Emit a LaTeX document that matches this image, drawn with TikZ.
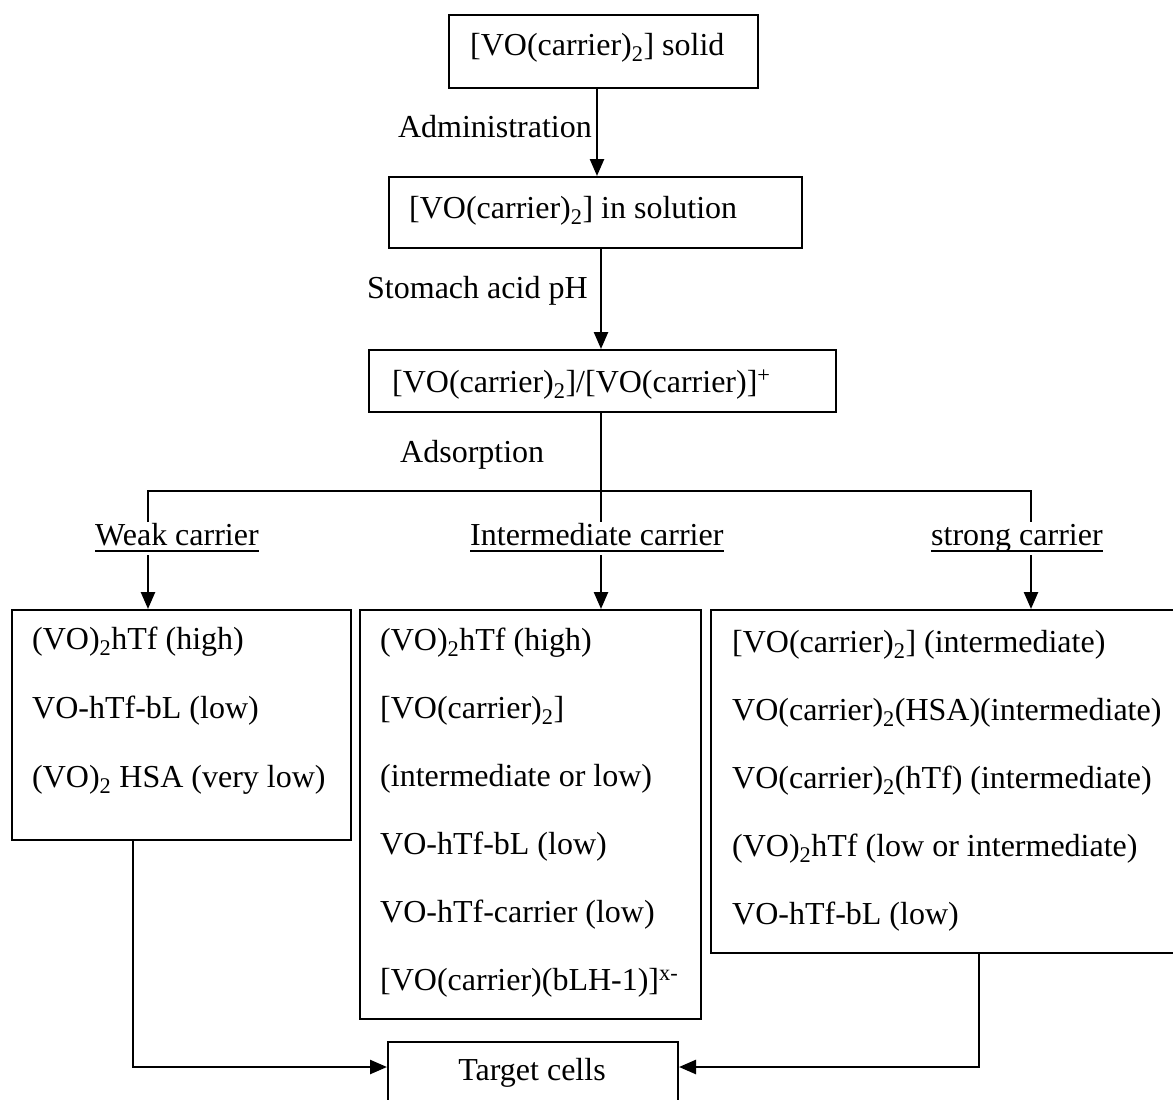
\documentclass[tikz,border=0pt]{standalone}
\usepackage{fontspec}
\setmainfont{Liberation Serif}
\usetikzlibrary{arrows.meta}
\begin{document}
\begin{tikzpicture}[x=1pt,y=-1pt,
  box/.style={draw, line width=2pt, rectangle, inner sep=0pt, anchor=north west},
  txt/.style={inner sep=0pt, anchor=base west, font=\fontsize{32}{38}\selectfont},
  conn/.style={line width=2.5pt},
  arr/.style={conn, -{Triangle[length=17pt,width=14pt]}},
  uline/.style={line width=2pt}]
\useasboundingbox (0,0) rectangle (1173,1100);

% boxes
\node[box, minimum width=309pt, minimum height=73pt] (b1) at (448,14) {};
\node[box, minimum width=413pt, minimum height=71pt] (b2) at (388,176) {};
\node[box, minimum width=467pt, minimum height=62pt] (b3) at (368,349) {};
\node[box, minimum width=339pt, minimum height=230pt] (bL) at (11,609) {};
\node[box, minimum width=341pt, minimum height=409pt] (bM) at (359,609) {};
\node[box, minimum width=480pt, minimum height=343pt] (bR) at (710,609) {};
\node[box, minimum width=290pt, minimum height=110pt] (tgt) at (387,1041) {};

% texts
\node[txt] (t1) at (470,55) {[VO(carrier)\textsubscript{2}] solid};
\node[txt] (t2) at (409,218) {[VO(carrier)\textsubscript{2}] in solution};
\node[txt] (t3) at (392,392) {[VO(carrier)\textsubscript{2}]/[VO(carrier)]\textsuperscript{+}};
\node[txt, anchor=base east] (adm) at (592,137) {Administration};
\node[txt] (sto) at (367,298) {Stomach acid pH};
\node[txt] (ads) at (400,462) {Adsorption};
\node[txt] (weak) at (95,545) {Weak carrier};
\node[txt] (inter) at (470,545) {Intermediate carrier};
\node[txt] (strong) at (931,545) {strong carrier};

\node[txt] (l1) at (32,649) {(VO)\textsubscript{2}hTf (high)};
\node[txt] (l2) at (32,718) {VO-hTf-bL (low)};
\node[txt] (l3) at (32,787) {(VO)\textsubscript{2} HSA (very low)};

\node[txt] (m1) at (380,650) {(VO)\textsubscript{2}hTf (high)};
\node[txt] (m2) at (380,718) {[VO(carrier)\textsubscript{2}]};
\node[txt] (m3) at (380,786) {(intermediate or low)};
\node[txt] (m4) at (380,854) {VO-hTf-bL (low)};
\node[txt] (m5) at (380,922) {VO-hTf-carrier (low)};
\node[txt] (m6) at (380,990) {[VO(carrier)(bLH-1)]\textsuperscript{x-}};

\node[txt] (r1) at (732,652) {[VO(carrier)\textsubscript{2}] (intermediate)};
\node[txt] (r2) at (732,720) {VO(carrier)\textsubscript{2}(HSA)(intermediate)};
\node[txt] (r3) at (732,788) {VO(carrier)\textsubscript{2}(hTf) (intermediate)};
\node[txt] (r4) at (732,856) {(VO)\textsubscript{2}hTf (low or intermediate)};
\node[txt] (r5) at (732,924) {VO-hTf-bL (low)};

\node[txt, anchor=base] (tc) at (532,1080) {Target cells};

% underlines
\draw[uline] ([yshift=-6pt]weak.base west) -- ([yshift=-6pt]weak.base east);
\draw[uline] ([yshift=-6pt]inter.base west) -- ([yshift=-6pt]inter.base east);
\draw[uline] ([yshift=-6pt]strong.base west) -- ([yshift=-6pt]strong.base east);

% helper coordinates
\coordinate (c1) at (597,0);
\coordinate (c2) at (601,0);
\coordinate (cL) at (148,0);
\coordinate (cR) at (1031,0);
\coordinate (dL) at (133,0);
\coordinate (dR) at (979,0);
\coordinate (br) at (0,491);
\coordinate (brend) at (0,522);
\coordinate (astart) at (0,555);
\coordinate (ty) at (0,1067);

% connectors
\draw[arr] (b1.south -| c1) -- (b2.north -| c1);
\draw[arr] (b2.south -| c2) -- (b3.north -| c2);
\draw[conn] (b3.south -| c2) -- (c2 |- brend);
\draw[conn] (cL |- brend) -- (cL |- br) -- (cR |- br) -- (cR |- brend);
\draw[arr] (cL |- astart) -- (cL |- bL.north);
\draw[arr] (c2 |- astart) -- (c2 |- bM.north);
\draw[arr] (cR |- astart) -- (cR |- bR.north);
\draw[arr] (bL.south -| dL) -- (dL |- ty) -- (tgt.west |- ty);
\draw[arr] (bR.south -| dR) -- (dR |- ty) -- (tgt.east |- ty);
\end{tikzpicture}
\end{document}
